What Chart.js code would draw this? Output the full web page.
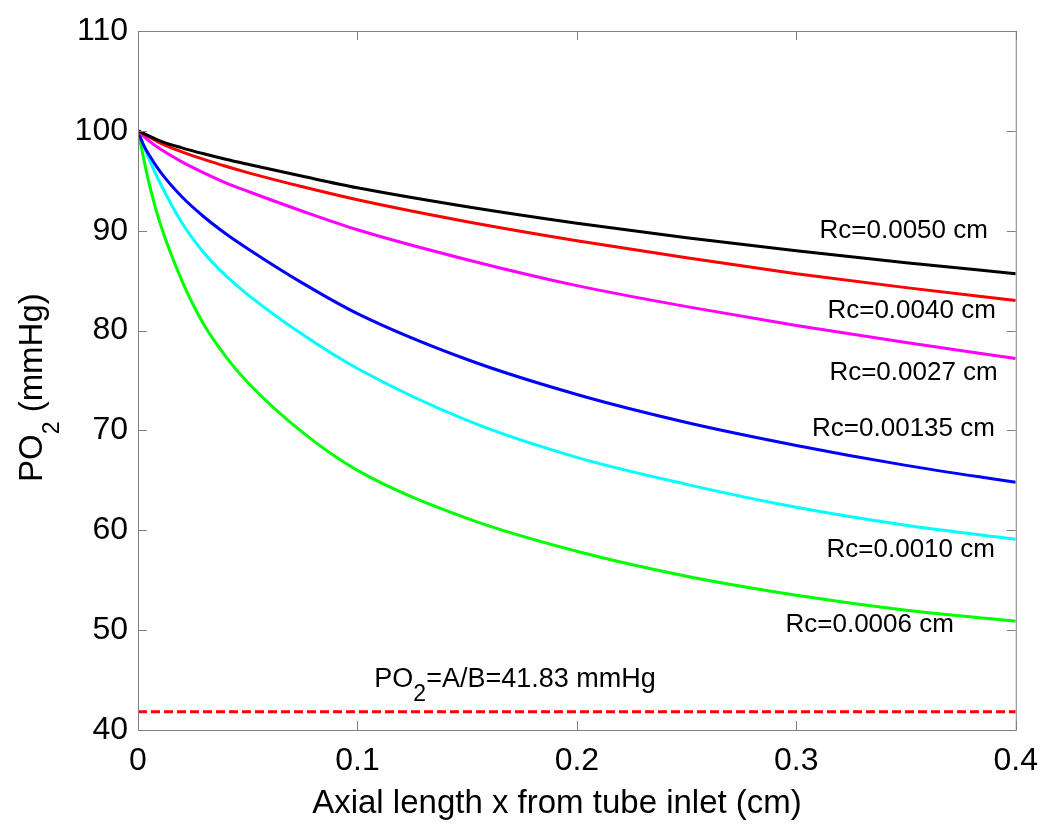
<!DOCTYPE html>
<html>
<head>
<meta charset="utf-8">
<script src="https://cdn.jsdelivr.net/npm/chart.js@4.4.0/dist/chart.umd.min.js"></script>
<style>
  html, body { margin: 0; padding: 0; background: #fff; }
  #myChart { display: block; }
</style>
</head>
<body>
<canvas id="myChart" width="1050" height="825"></canvas>
<script>
var xs = [0, 0.0025, 0.005, 0.01, 0.02, 0.03, 0.04, 0.05, 0.075, 0.1, 0.15, 0.2, 0.25, 0.3, 0.35, 0.4];

// PO2 (mmHg) for each capillary radius
var po2Rc0050 = [100, 99.75, 99.5, 99.0, 98.3, 97.7, 97.15, 96.65, 95.45, 94.3, 92.4, 90.75, 89.3, 88.0, 86.8, 85.7];
var po2Rc0040 = [100, 99.7, 99.4, 98.8, 97.9, 97.15, 96.45, 95.82, 94.4, 93.1, 90.9, 89.0, 87.3, 85.7, 84.3, 83.0];
var po2Rc0027 = [100, 99.5, 99.0, 98.2, 96.9, 95.8, 94.8, 93.95, 91.95, 90.1, 87.1, 84.5, 82.4, 80.5, 78.8, 77.2];
var po2Rc00135 = [100, 98.6, 97.6, 95.95, 93.4, 91.4, 89.7, 88.2, 84.75, 81.7, 77.1, 73.6, 70.8, 68.5, 66.5, 64.8];
var po2Rc0010 = [100, 98.55, 97.2, 94.8, 90.8, 87.8, 85.5, 83.6, 79.6, 76.2, 71.0, 67.3, 64.6, 62.3, 60.5, 59.1];
var po2Rc0006 = [100, 97.3, 94.8, 90.8, 85.0, 80.6, 77.4, 74.8, 69.8, 66.0, 61.2, 57.9, 55.4, 53.5, 52.0, 50.9];

var po2Limit = 41.83;

var curveNames = ["Rc=0.0050 cm", "Rc=0.0040 cm", "Rc=0.0027 cm", "Rc=0.00135 cm", "Rc=0.0010 cm", "Rc=0.0006 cm"];
var curveColors = ["#000000", "#ff0000", "#ff00ff", "#0000ff", "#00ffff", "#00ff00"];
var curveValues = [po2Rc0050, po2Rc0040, po2Rc0027, po2Rc00135, po2Rc0010, po2Rc0006];

var xTickValues = [0, 0.1, 0.2, 0.3, 0.4];
var xTickLabels = ["0", "0.1", "0.2", "0.3", "0.4"];
var yTickValues = [40, 50, 60, 70, 80, 90, 100, 110];

// where each curve label sits (data coords, right edge of text)
var labelX = [0.3873, 0.3909, 0.3918, 0.3905, 0.3905, 0.3718];
var labelY = [90.0, 82.0, 75.8, 70.2, 58.0, 50.5];

function toPoints(vals) {
  return xs.map(function (x, i) { return { x: x, y: vals[i] }; });
}

var datasets = curveValues.map(function (vals, i) {
  return {
    label: curveNames[i],
    data: toPoints(vals),
    borderColor: curveColors[i],
    borderWidth: 3,
    pointRadius: 0,
    cubicInterpolationMode: "monotone",
    fill: false
  };
});
datasets.push({
  label: "PO2=A/B",
  data: [{ x: 0, y: po2Limit }, { x: 0.4, y: po2Limit }],
  borderColor: "#ff0000",
  borderWidth: 3,
  borderDash: [9, 4],
  pointRadius: 0,
  fill: false
});

var FONT = "'Liberation Sans', Arial, Helvetica, sans-serif";

// box, inward ticks and text labels (MATLAB look)
var decor = {
  id: "decor",
  afterDraw: function (chart) {
    var ctx = chart.ctx;
    var a = chart.chartArea;
    var sx = chart.scales.x, sy = chart.scales.y;
    ctx.save();
    ctx.strokeStyle = "#808080";
    ctx.lineWidth = 1;
    ctx.strokeRect(a.left + 0.5, a.top + 0.5, a.right - a.left, a.bottom - a.top);
    ctx.beginPath();
    yTickValues.forEach(function (v) {
      var y = Math.round(sy.getPixelForValue(v)) + 0.5;
      ctx.moveTo(a.left, y); ctx.lineTo(a.left + 9, y);
      ctx.moveTo(a.right, y); ctx.lineTo(a.right - 9, y);
    });
    xTickValues.forEach(function (v) {
      var x = Math.round(sx.getPixelForValue(v)) + 0.5;
      ctx.moveTo(x, a.bottom); ctx.lineTo(x, a.bottom - 9);
      ctx.moveTo(x, a.top); ctx.lineTo(x, a.top + 9);
    });
    ctx.stroke();

    // curve labels
    ctx.fillStyle = "#000";
    ctx.font = "26px " + FONT;
    ctx.textAlign = "right";
    ctx.textBaseline = "middle";
    curveNames.forEach(function (t, i) {
      ctx.fillText(t, sx.getPixelForValue(labelX[i]), sy.getPixelForValue(labelY[i]));
    });

    // PO2=A/B label
    ctx.textAlign = "left";
    ctx.textBaseline = "alphabetic";
    var px = sx.getPixelForValue(0.1077), py = sy.getPixelForValue(44.35);
    ctx.font = "27px " + FONT;
    ctx.fillText("PO", px, py);
    px += ctx.measureText("PO").width;
    ctx.font = "23px " + FONT;
    ctx.fillText("2", px, py + 14);
    px += ctx.measureText("2").width;
    ctx.font = "27px " + FONT;
    ctx.fillText("=A/B=" + po2Limit + " mmHg", px, py);

    // x axis title
    ctx.textAlign = "center";
    ctx.font = "33px " + FONT;
    ctx.fillText("Axial length x from tube inlet (cm)", 557, 813);

    // y axis title, rotated, with subscript
    ctx.textAlign = "left";
    ctx.translate(42, 482);
    ctx.rotate(-Math.PI / 2);
    ctx.font = "33px " + FONT;
    ctx.fillText("PO", 0, 0);
    var w = ctx.measureText("PO").width;
    ctx.font = "23px " + FONT;
    ctx.fillText("2", w, 17);
    w += ctx.measureText("2").width;
    ctx.font = "33px " + FONT;
    ctx.fillText(" (mmHg)", w, 0);
    ctx.restore();
  }
};

var ctx = document.getElementById("myChart").getContext("2d");
var chart = new Chart(ctx, {
  type: "line",
  data: { datasets: datasets },
  plugins: [decor],
  options: {
    responsive: false,
    animation: false,
    devicePixelRatio: 1,
    layout: { padding: { top: 31, right: 32, left: 0, bottom: 0 } },
    plugins: { legend: { display: false }, tooltip: { enabled: false } },
    scales: {
      x: {
        type: "linear",
        min: 0,
        max: 0.4,
        grid: { display: false, drawTicks: false },
        border: { display: false },
        afterBuildTicks: function (s) { s.ticks = xTickValues.map(function (v) { return { value: v }; }); },
        afterFit: function (s) { s.height = 95; },
        ticks: {
          padding: 12,
          color: "#000",
          font: { size: 32, family: FONT },
          maxRotation: 0,
          callback: function (v, i) { return xTickLabels[i]; }
        }
      },
      y: {
        min: 40,
        max: 110,
        grid: { display: false, drawTicks: false },
        border: { display: false },
        afterBuildTicks: function (s) { s.ticks = yTickValues.map(function (v) { return { value: v }; }); },
        afterFit: function (s) { s.width = 138; },
        ticks: {
          padding: 10,
          color: "#000",
          font: { size: 32, family: FONT }
        }
      }
    }
  }
});
</script>
</body>
</html>
